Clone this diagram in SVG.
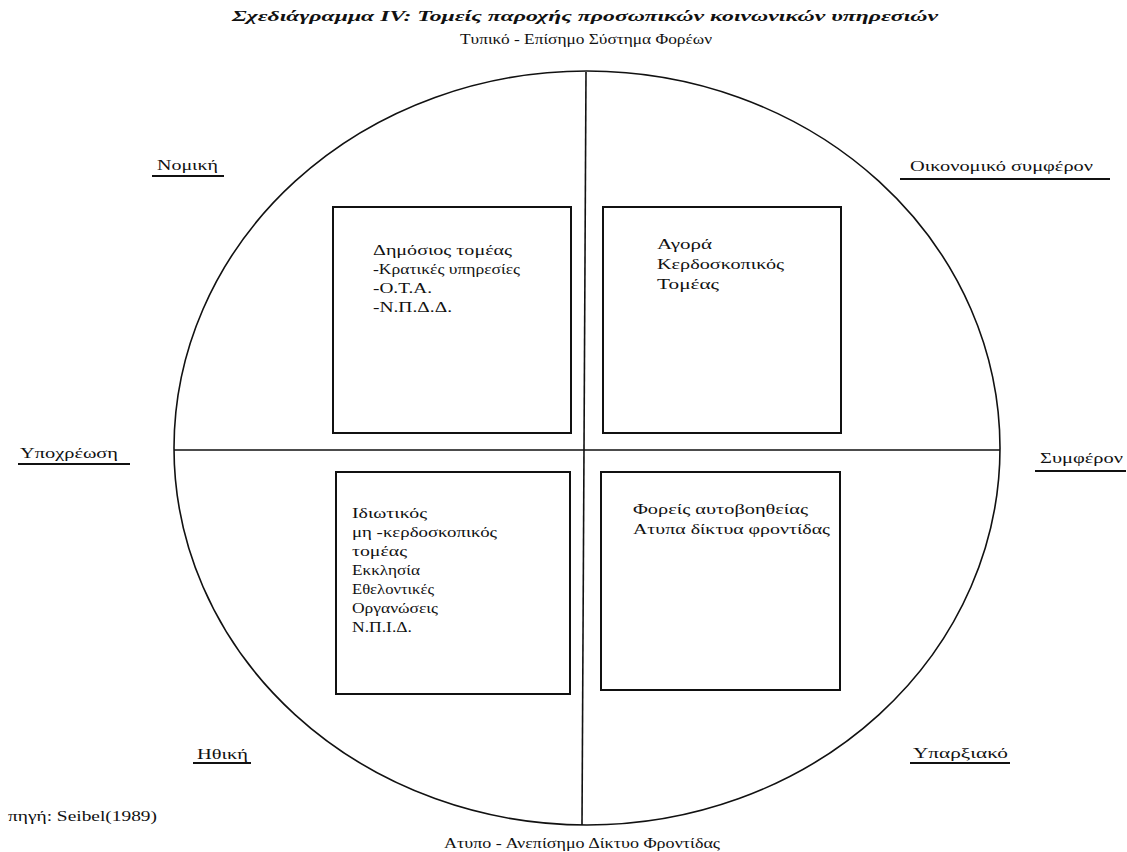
<svg xmlns="http://www.w3.org/2000/svg" width="1127" height="852" viewBox="0 0 1127 852">
<style>
text{font-family:"Liberation Serif","DejaVu Serif","Times New Roman",serif;fill:#111;font-size:15.5px}
.title{font-weight:bold;font-style:italic;font-size:14px}
.ul{stroke:#111;stroke-width:2}
.box{fill:none;stroke:#111;stroke-width:2}
.ax{fill:none;stroke:#111;stroke-width:1.6}
</style>
<rect width="1127" height="852" fill="#fff"/>
<text class="title" x="232" y="21" textLength="706" lengthAdjust="spacingAndGlyphs">Σχεδιάγραμμα IV: Τομείς παροχής προσωπικών κοινωνικών υπηρεσιών</text>
<text x="460" y="44" textLength="252" lengthAdjust="spacingAndGlyphs">Τυπικό - Επίσημο Σύστημα Φορέων</text>
<g id="connectors">
<ellipse class="ax" cx="587" cy="448" rx="413" ry="377"/>
<line class="ax" x1="586" y1="72" x2="582" y2="825"/>
<line class="ax" x1="174" y1="450" x2="1000" y2="450"/>
</g>
<g id="axis-labels">
<text x="157" y="170" textLength="61" lengthAdjust="spacingAndGlyphs">Νομική</text>
<line class="ul" x1="152" y1="176" x2="224" y2="176"/>
<text x="910" y="171" textLength="183" lengthAdjust="spacingAndGlyphs">Οικονομικό συμφέρον</text>
<line class="ul" x1="900" y1="179" x2="1110" y2="179"/>
<text x="20" y="458" textLength="98" lengthAdjust="spacingAndGlyphs">Υποχρέωση</text>
<line class="ul" x1="18" y1="464" x2="130" y2="464"/>
<text x="1040" y="463" textLength="83" lengthAdjust="spacingAndGlyphs">Συμφέρον</text>
<line class="ul" x1="1035" y1="471" x2="1126" y2="471"/>
<text x="197" y="759" textLength="51" lengthAdjust="spacingAndGlyphs">Ηθική</text>
<line class="ul" x1="193" y1="763" x2="251" y2="763"/>
<text x="913" y="758" textLength="95" lengthAdjust="spacingAndGlyphs">Υπαρξιακό</text>
<line class="ul" x1="910" y1="763" x2="1010" y2="763"/>
</g>
<g id="public">
<rect class="box" x="333" y="207" width="238" height="226"/>
<text x="373" y="255" textLength="139" lengthAdjust="spacingAndGlyphs">Δημόσιος τομέας</text>
<text x="373" y="274" textLength="147" lengthAdjust="spacingAndGlyphs">-Κρατικές υπηρεσίες</text>
<text x="373" y="293" textLength="59" lengthAdjust="spacingAndGlyphs">-Ο.Τ.Α.</text>
<text x="373" y="312" textLength="79" lengthAdjust="spacingAndGlyphs">-Ν.Π.Δ.Δ.</text>
</g>
<g id="market">
<rect class="box" x="603" y="207" width="238" height="226"/>
<text x="657" y="249" textLength="55" lengthAdjust="spacingAndGlyphs">Αγορά</text>
<text x="657" y="269" textLength="127" lengthAdjust="spacingAndGlyphs">Κερδοσκοπικός</text>
<text x="657" y="289" textLength="62" lengthAdjust="spacingAndGlyphs">Τομέας</text>
</g>
<g id="nonprofit">
<rect class="box" x="336" y="472" width="234" height="222"/>
<text x="352" y="518" textLength="75" lengthAdjust="spacingAndGlyphs">Ιδιωτικός</text>
<text x="352" y="537" textLength="145" lengthAdjust="spacingAndGlyphs">μη -κερδοσκοπικός</text>
<text x="352" y="556" textLength="55" lengthAdjust="spacingAndGlyphs">τομέας</text>
<text x="352" y="575" textLength="68" lengthAdjust="spacingAndGlyphs">Εκκλησία</text>
<text x="352" y="594" textLength="82" lengthAdjust="spacingAndGlyphs">Εθελοντικές</text>
<text x="352" y="613" textLength="86" lengthAdjust="spacingAndGlyphs">Οργανώσεις</text>
<text x="352" y="632" textLength="60" lengthAdjust="spacingAndGlyphs">Ν.Π.Ι.Δ.</text>
</g>
<g id="informal">
<rect class="box" x="601" y="472" width="239" height="218"/>
<text x="633" y="514" textLength="175" lengthAdjust="spacingAndGlyphs">Φορείς αυτοβοηθείας</text>
<text x="633" y="534" textLength="197" lengthAdjust="spacingAndGlyphs">Ατυπα δίκτυα φροντίδας</text>
</g>
<text x="444" y="848" textLength="276" lengthAdjust="spacingAndGlyphs">Ατυπο - Ανεπίσημο Δίκτυο Φροντίδας</text>
<text x="8" y="821" textLength="149" lengthAdjust="spacingAndGlyphs">πηγή: Seibel(1989)</text>
</svg>
